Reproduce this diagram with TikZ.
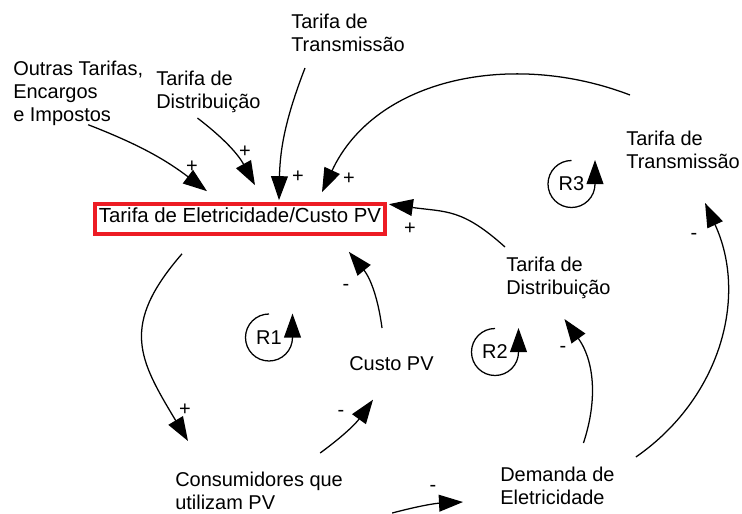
\documentclass[tikz,border=0pt]{standalone}
\usepackage{fontspec}
\setmainfont{Liberation Sans}
\usetikzlibrary{arrows.meta}
\definecolor{boxred}{RGB}{237,28,36}
\tikzset{
  lbl/.style={anchor=north west,inner sep=0pt,align=left,
    font=\fontsize{14.2}{16.2}\selectfont},
  sgn/.style={inner sep=0pt,font=\fontsize{14.2}{16.2}\selectfont},
  mainbox/.style={draw=boxred,line width=2.6pt,inner sep=2pt,
    minimum width=7.25cm,minimum height=0.75cm,
    text height=0.36cm,text depth=0.165cm,
    font=\fontsize{14.5}{16.2}\selectfont},
  link/.style={line width=0.9pt,-{Triangle[length=0.6cm,width=0.42cm]}},
}
\begin{document}
\begin{tikzpicture}[x=0.025cm,y=0.025cm]
  \useasboundingbox (0,0) rectangle (742,-513);
  \draw
    (13,-61) node[lbl] (outras) {Outras Tarifas,\\Encargos\\e Impostos}
    (156,-71) node[lbl] (distA) {Tarifa de\\Distribuição}
    (291,-14) node[lbl] (transA) {Tarifa de\\Transmissão}
    (626,-131) node[lbl] (transB) {Tarifa de\\Transmissão}
    (506,-257) node[lbl] (distB) {Tarifa de\\Distribuição}
    (349,-356) node[lbl] (custo) {Custo PV}
    (175,-472) node[lbl] (consum) {Consumidores que\\utilizam PV}
    (500,-467) node[lbl] (demanda) {Demanda de\\Eletricidade}
    (240,-219) node[mainbox] (tarifa) {Tarifa de Eletricidade/Custo PV};
  \draw
    (269,-337.5) node[sgn] (r1) {R1}
    (495,-352) node[sgn] (r2) {R2}
    (571.5,-184) node[sgn] (r3) {R3};
  \draw
    (192,-167) node[sgn] (s1) {+}
    (245,-152) node[sgn] (s2) {+}
    (298,-177) node[sgn] (s3) {+}
    (349,-179) node[sgn] (s4) {+}
    (410,-229) node[sgn] (s5) {+}
    (185,-410) node[sgn] (s6) {+}
    (341,-413) node[sgn] (s7) {-}
    (346,-287) node[sgn] (s8) {-}
    (433,-488) node[sgn] (s9) {-}
    (563,-349) node[sgn] (s10) {-}
    (694,-236) node[sgn] (s11) {-};
  \begin{scope}[link]
    \draw ([shift={(10,1)}]outras.south) to[bend left=8] ([shift={(-33,11)}]tarifa.north);
    \draw ([shift={(-11,-5)}]distA.south) to[bend left=12] ([shift={(15,17)}]tarifa.north);
    \draw ([shift={(14,-16)}]transA.south west) to[bend right=10] ([shift={(39,2)}]tarifa.north);
    \draw ([shift={(4,36)}]transB.north west) to[out=159,in=65] ([shift={(82,10)}]tarifa.north);
    \draw ([shift={(-1,10)}]distB.north west) to[out=138,in=-8,looseness=1.2] ([shift={(2,-2)}]tarifa.north east);
    \draw ([shift={(-58,-18)}]tarifa.south) to[out=229,in=121,looseness=1.3] ([shift={(13,31)}]consum.north west);
    \draw ([shift={(-23,19)}]consum.north east) to[bend right=9] ([shift={(24,-29)}]custo.south west);
    \draw ([shift={(33,28)}]custo.north west) to[bend right=16] ([shift={(-38,-16)}]tarifa.south east);
    \draw ([shift={(49,-3)}]consum.south east) to[bend left=6] ([shift={(-37,3)}]demanda.south west);
    \draw ([shift={(26,24)}]demanda.north) to[bend right=27] ([shift={(6,-20)}]distB.south);
    \draw ([shift={(21,10)}]demanda.north east) to[bend right=40] ([shift={(22,-34)}]transB.south);
    \draw ([shift={(90:0.5875cm)}]r1.center) arc[start angle=90,end angle=360,radius=0.5875cm] -- ++(0,24);
    \draw ([shift={(90:0.5875cm)}]r2.center) arc[start angle=90,end angle=360,radius=0.5875cm] -- ++(0,24);
    \draw ([shift={(90:0.5875cm)}]r3.center) arc[start angle=90,end angle=360,radius=0.5875cm] -- ++(0,24);
  \end{scope}
\end{tikzpicture}
\end{document}
